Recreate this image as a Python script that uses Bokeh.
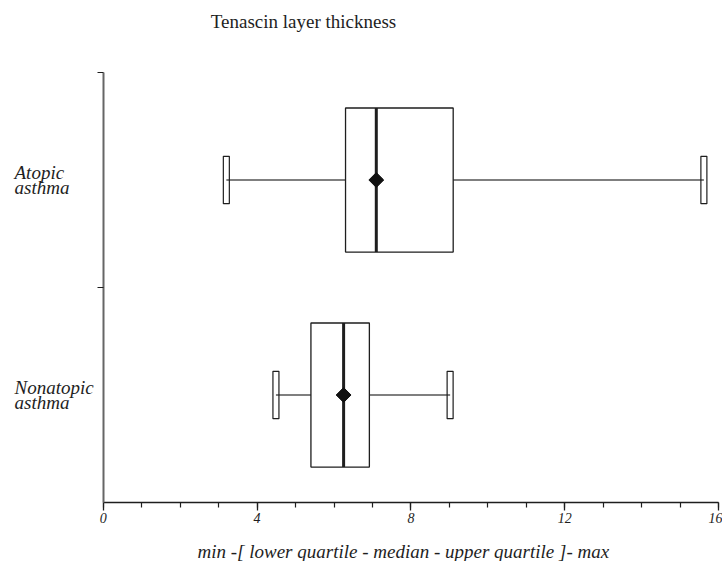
from bokeh.plotting import figure
from bokeh.models import Range1d, LinearAxis, FixedTicker, Label, Title, ColumnDataSource
from bokeh.embed import file_html
from bokeh.resources import INLINE

# ---- data ----
categories = ["Atopic asthma", "Nonatopic asthma"]
category_lines = [["Atopic", "asthma"], ["Nonatopic", "asthma"]]
positions = [1.5, 0.5]
mins = [3.2, 4.49]
lower_q = [6.30, 5.40]
medians = [7.10, 6.25]
upper_q = [9.10, 6.92]
maxs = [15.62, 9.02]
means = [7.10, 6.25]
x_ticks = [0, 4, 8, 12, 16]
x_minor = list(range(0, 17))
group_edges = [1, 2]
title_text = "Tenascin layer thickness"
x_title = "min -[ lower quartile - median - upper quartile ]- max"

FONT = "Liberation Serif"
INK = "#1e1e1e"

# frame spans page x=12..722 and y=0..538; data 0..16 -> 102.8..718, 0..2 -> 502..72
PX_X = (718 - 102.8) / 16.0
PX_Y = (502 - 72) / 2.0
FRAME_BOTTOM = 538
x_start = -(102.8 - 12) / PX_X
x_end = 16 + (722 - 718) / PX_X
y_start = -(FRAME_BOTTOM - 502) / PX_Y
y_end = 2 + 72 / PX_Y

p = figure(width=722, height=561, x_range=Range1d(x_start, x_end), y_range=Range1d(y_start, y_end),
           output_backend="svg", toolbar_location=None,
           x_axis_location=None, y_axis_location=None,
           min_border_left=12, min_border_right=0, min_border_top=0, min_border_bottom=0)
p.title.text = ""
p.title.visible = False
p.grid.visible = False
p.outline_line_color = None
p.background_fill_color = "white"
p.border_fill_color = "white"

xaxis = LinearAxis(ticker=FixedTicker(ticks=x_ticks, minor_ticks=x_minor), bounds=(0, 16),
                   fixed_location=0)
xaxis.axis_line_color = INK
xaxis.axis_line_width = 1.5
xaxis.major_tick_line_color = INK
xaxis.minor_tick_line_color = INK
xaxis.major_tick_line_width = 1.3
xaxis.minor_tick_line_width = 1.2
xaxis.major_tick_in = 0
xaxis.major_tick_out = 8
xaxis.minor_tick_in = 0
xaxis.minor_tick_out = 5
xaxis.major_label_text_font = FONT
xaxis.major_label_text_font_style = "italic"
xaxis.major_label_text_font_size = "14px"
xaxis.major_label_text_color = INK
xaxis.major_label_standoff = 2
p.add_layout(xaxis, "below")

xtitle = Title(text=x_title, align="left", offset=197 - 12, standoff=0,
               text_font=FONT, text_font_style="italic", text_font_size="19px",
               text_color=INK)
p.add_layout(xtitle, "below")

yaxis = LinearAxis(ticker=FixedTicker(ticks=[], minor_ticks=group_edges), fixed_location=0,
                   bounds=(0, 2))
yaxis.axis_line_color = "#666666"
yaxis.axis_line_width = 2
yaxis.minor_tick_line_color = INK
yaxis.minor_tick_line_width = 1.2
yaxis.minor_tick_in = 0
yaxis.minor_tick_out = 6
yaxis.major_tick_in = 0
yaxis.major_tick_out = 0
yaxis.major_label_standoff = 0
p.add_layout(yaxis, "left")

src = ColumnDataSource(dict(cat=categories, y=positions, lo=mins, q1=lower_q,
                            med=medians, q3=upper_q, hi=maxs, mean=means))

p.segment(x0="lo", y0="y", x1="hi", y1="y", line_color="#555555", line_width=1.3, source=src)
p.hbar(y="y", left="q1", right="q3", height=0.67, fill_color="white",
       line_color=INK, line_width=1.3, source=src)
p.rect(x="lo", y="y", width=6, width_units="screen", height=0.22,
       fill_color=None, line_color=INK, line_width=1.2, source=src)
p.rect(x="hi", y="y", width=6, width_units="screen", height=0.22,
       fill_color=None, line_color=INK, line_width=1.2, source=src)
p.rect(x="med", y="y", width=3, width_units="screen", height=0.67,
       fill_color=INK, line_color=None, source=src)
p.scatter(x="mean", y="y", marker="square", angle=0.7854, size=10.5,
          fill_color="#111111", line_color="#111111", source=src)

p.add_layout(Label(x=(303 - 102.8) / PX_X, y=2 + (72 - 21) / PX_Y, text=title_text,
                   text_align="center", text_baseline="middle", text_font=FONT,
                   text_font_size="19px", text_color=INK))

label_x = (14 - 102.8) / PX_X
line_offsets = [7.9, -7.2]
for lines, yv in zip(category_lines, positions):
    for line, off in zip(lines, line_offsets):
        p.add_layout(Label(x=label_x, y=yv + off / PX_Y, text=line,
                           text_align="left", text_baseline="middle",
                           text_font=FONT, text_font_style="italic", text_font_size="19px",
                           text_color=INK))

open("out.html", "w").write(file_html(p, INLINE))
